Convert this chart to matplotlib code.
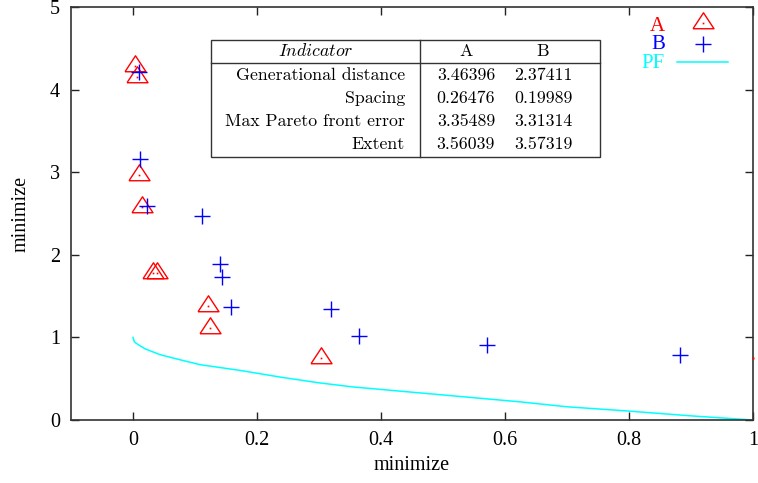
import matplotlib
matplotlib.use('Agg')
import matplotlib.pyplot as plt
from matplotlib.lines import Line2D
from matplotlib.patches import Rectangle

plt.rcParams['font.family'] = ['Liberation Serif', 'DejaVu Serif']
plt.rcParams['mathtext.fontset'] = 'cm'

# points of run A (triangles) and run B (plus signs)
a_x = [0.004, 0.006, 0.009, 0.015, 0.033, 0.039, 0.121, 0.124, 0.303]
a_y = [4.29, 4.15, 2.97, 2.58, 1.78, 1.78, 1.38, 1.11, 0.75]
b_x = [0.010, 0.011, 0.022, 0.111, 0.140, 0.144, 0.158, 0.319, 0.365, 0.571, 0.882]
b_y = [4.21, 3.16, 2.59, 2.47, 1.89, 1.73, 1.37, 1.34, 1.02, 0.91, 0.79]
# A point sitting on the right border (only its dot shows)
edge_x = [1.0]
edge_y = [0.75]

# Pareto front
pf_x = [0.0, 0.002, 0.005, 0.011, 0.02, 0.044, 0.07, 0.108, 0.173, 0.237,
        0.3, 0.355, 0.4, 0.49, 0.624, 0.7, 0.796, 0.9, 1.0]
pf_y = [1.0, 0.95, 0.93, 0.90, 0.86, 0.79, 0.74, 0.67, 0.60, 0.52,
        0.45, 0.40, 0.37, 0.31, 0.22, 0.16, 0.11, 0.05, 0.0]

# indicator table
indicators = ['Generational distance', 'Spacing', 'Max Pareto front error', 'Extent']
ind_a = ['3.46396', '0.26476', '3.35489', '3.56039']
ind_b = ['2.37411', '0.19989', '3.31314', '3.57319']

xticks = [0, 0.2, 0.4, 0.6, 0.8, 1]
xtick_labels = ['0', '0.2', '0.4', '0.6', '0.8', '1']
yticks = [0, 1, 2, 3, 4, 5]

# gnuplot-ish triangle, centred on its centroid
tri = [(-1, -0.5), (1, -0.5), (0, 1.02), (-1, -0.5)]

fig = plt.figure(figsize=(7.58, 4.83), dpi=100)
ax = fig.add_axes([71/758, 63/483, 682/758, 413/483])

ax.plot(pf_x, pf_y, color='#00ffff', lw=1.1, zorder=2)
ax.plot(a_x, a_y, ls='none', marker=tri, ms=15.4, mfc='none', mec='red', mew=1.0, zorder=3)
ax.plot(a_x, a_y, ls='none', marker='s', ms=1.2, mfc='red', mec='none', zorder=3)
ax.plot(edge_x, edge_y, ls='none', marker='s', ms=1.5, mfc='red', mec='none', clip_on=False, zorder=5)
ax.plot(b_x, b_y, ls='none', marker='+', ms=11.5, mec='#0000ff', mew=1.0, zorder=4)

ax.set_xlim(-0.1, 1)
ax.set_ylim(0, 5)
ax.set_xticks(xticks)
ax.set_xticklabels(xtick_labels)
ax.set_yticks(yticks)
ax.tick_params(direction='in', top=True, right=True, length=6, width=1.0,
               labelsize=14.5, pad=8, colors='#222222', labelcolor='black')
for s in ax.spines.values():
    s.set_linewidth(1.2)
    s.set_color('#333333')
ax.set_xlabel('minimize', fontsize=14.5, labelpad=4)
ax.set_ylabel('minimize', fontsize=14.5, labelpad=14)

# legend drawn by hand (gnuplot style: right aligned text, then sample)
leg_font = dict(fontsize=15, ha='right', va='center', transform=ax.transAxes)
ax.text(0.871, 0.952, 'A', color='red', **leg_font)
ax.text(0.871, 0.908, 'B', color='#0000ff', **leg_font)
ax.text(0.871, 0.864, 'PF', color='#00ffff', **leg_font)
ax.plot([0.927], [0.961], transform=ax.transAxes, marker=tri, ms=15.4, mfc='none',
        mec='red', mew=1.0, clip_on=False)
ax.plot([0.927], [0.961], transform=ax.transAxes, marker='s', ms=1.2, mfc='red',
        mec='none', clip_on=False)
ax.plot([0.927], [0.910], transform=ax.transAxes, marker='+', ms=11.5, mec='#0000ff',
        mew=1.0, clip_on=False)
ax.plot([0.889, 0.963], [0.867, 0.867], transform=ax.transAxes, color='#00ffff', lw=1.1)

# the indicator table
tab_l, tab_r, tab_t, tab_b = 0.205, 0.776, 0.920, 0.637
div_x = 0.512
head_line = 0.864
ax.add_patch(Rectangle((tab_l, tab_b), tab_r - tab_l, tab_t - tab_b, transform=ax.transAxes,
                       fill=True, fc='white', ec='#333333', lw=1.0, zorder=6))
ax.add_line(Line2D([div_x, div_x], [tab_b, tab_t], transform=ax.transAxes,
                   color='#333333', lw=1.0, zorder=7))
ax.add_line(Line2D([tab_l, tab_r], [head_line, head_line], transform=ax.transAxes,
                   color='#333333', lw=1.0, zorder=7))

tfont = dict(family='cmr10', fontsize=12.8, va='center', transform=ax.transAxes, zorder=8)
ax.text(0.359, 0.893, r'$\mathit{Indicator}$', ha='center', va='center', fontsize=12.8,
        transform=ax.transAxes, zorder=8)
ax.text(0.579, 0.893, 'A', ha='center', **tfont)
ax.text(0.692, 0.893, 'B', ha='center', **tfont)
row_y = [0.835, 0.780, 0.724, 0.668]
for name, va_, vb_, ry in zip(indicators, ind_a, ind_b, row_y):
    ax.text(0.490, ry, name, ha='right', **tfont)
    ax.text(0.579, ry, va_, ha='center', **tfont)
    ax.text(0.692, ry, vb_, ha='center', **tfont)

plt.savefig('out.png', dpi=100)
